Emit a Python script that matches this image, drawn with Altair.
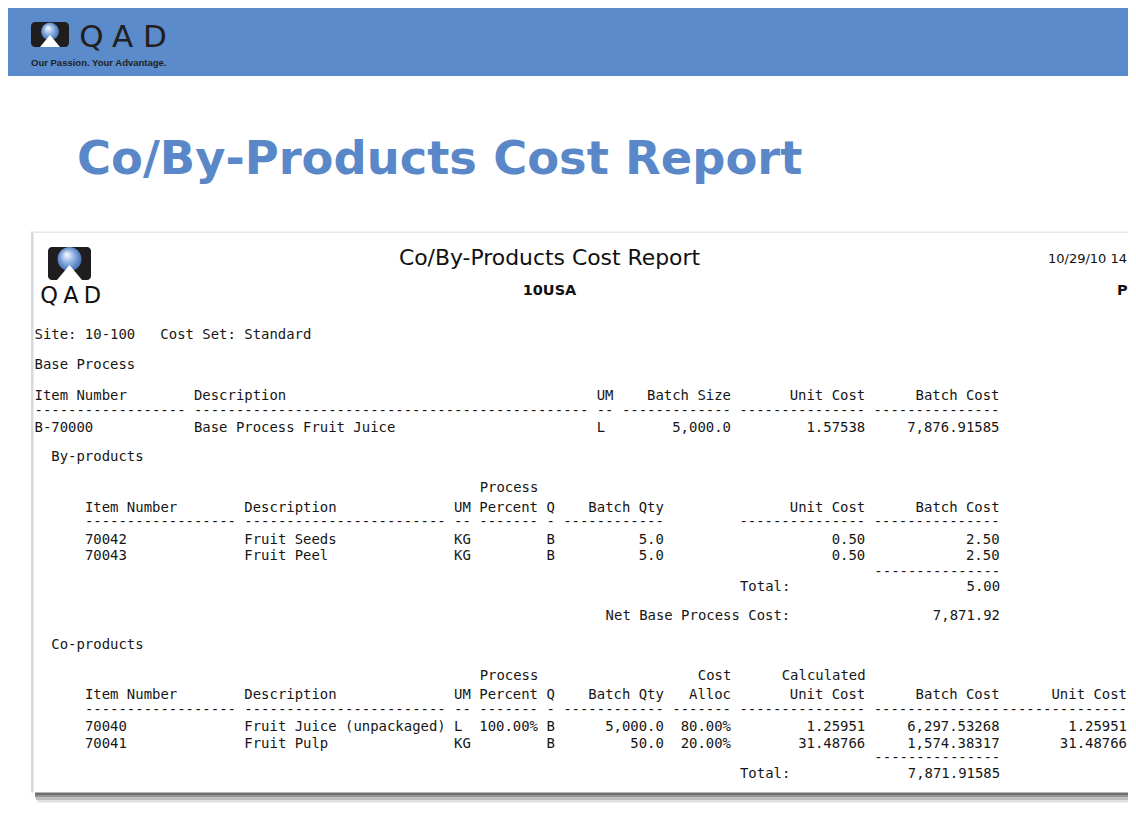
import altair as alt
import pandas as pd

# ------------------------------------------------------------------
# DATA (read from the reference report)
# ------------------------------------------------------------------
slide_title = "Co/By-Products Cost Report"
tagline = "Our Passion. Your Advantage."
logo_letters = ["Q", "A", "D"]

report_title = "Co/By-Products Cost Report"
entity = "10USA"
run_date = "10/29/10 14"
page_label = "P"
site = "10-100"
cost_set = "Standard"

base_items = ["B-70000"]
base_desc = ["Base Process Fruit Juice"]
base_um = ["L"]
base_batch_size = [5000.0]
base_unit_cost = [1.57538]
base_batch_cost = [7876.91585]

by_items = ["70042", "70043"]
by_desc = ["Fruit Seeds", "Fruit Peel"]
by_um = ["KG", "KG"]
by_q = ["B", "B"]
by_batch_qty = [5.0, 5.0]
by_unit_cost = [0.50, 0.50]
by_batch_cost = [2.50, 2.50]
by_total = 5.00
net_base_cost = 7871.92

co_items = ["70040", "70041"]
co_desc = ["Fruit Juice (unpackaged)", "Fruit Pulp"]
co_um = ["L", "KG"]
co_process_pct = ["100.00%", ""]
co_q = ["B", "B"]
co_batch_qty = [5000.0, 50.0]
co_cost_alloc = [80.0, 20.0]
co_calc_unit_cost = [1.25951, 31.48766]
co_batch_cost = [6297.53268, 1574.38317]
co_unit_cost = [1.25951, 31.48766]
co_total = 7871.91585

# ------------------------------------------------------------------
# Fixed-width report layout (column widths in characters)
# ------------------------------------------------------------------
BASE_W = [18, 47, 2, 13, 15, 15]
BASE_A = ["l", "l", "l", "r", "r", "r"]
SUB_W = [18, 24, 2, 7, 1, 12, 7, 15, 15]
SUB_A = ["l", "l", "l", "r", "l", "r", "r", "r", "r"]
LAST_W = 15           # the co-products' trailing "Unit Cost" column (runs off the right edge)
INDENT_SUB = 6
INDENT_SEC = 2


def fixed_row(cells, widths, aligns, indent=0):
    parts = []
    for c, w, a in zip(cells, widths, aligns):
        if isinstance(c, tuple):
            c, a = c
        parts.append(c.ljust(w) if a == "l" else c.rjust(w))
    return (" " * indent + " ".join(parts)).rstrip()


def dashes(widths, skip=()):
    return ["" if i in skip else "-" * w for i, w in enumerate(widths)]


lines = []          # main fixed-width lines
last_col = []       # (line index, text) of the trailing right-edge column
lines.append("Site: %s   Cost Set: %s" % (site, cost_set))
lines.append("Base Process")
lines.append(fixed_row(["Item Number", "Description", "UM", "Batch Size", "Unit Cost", "Batch Cost"], BASE_W, BASE_A))
lines.append(fixed_row(dashes(BASE_W), BASE_W, BASE_A))
for i in range(len(base_items)):
    lines.append(fixed_row([base_items[i], base_desc[i], base_um[i], f"{base_batch_size[i]:,.1f}",
                            f"{base_unit_cost[i]:.5f}", f"{base_batch_cost[i]:,.5f}"], BASE_W, BASE_A))
# By-products
lines.append(" " * INDENT_SEC + "By-products")
lines.append(fixed_row(["", "", "", "Process", "", "", "", "", ""], SUB_W, SUB_A, INDENT_SUB))
lines.append(fixed_row(["Item Number", "Description", "UM", "Percent", "Q", "Batch Qty", "", "Unit Cost",
                        "Batch Cost"], SUB_W, SUB_A, INDENT_SUB))
lines.append(fixed_row(dashes(SUB_W, skip=(6,)), SUB_W, SUB_A, INDENT_SUB))
for i in range(len(by_items)):
    lines.append(fixed_row([by_items[i], by_desc[i], by_um[i], "", by_q[i], f"{by_batch_qty[i]:,.1f}", "",
                            f"{by_unit_cost[i]:.2f}", f"{by_batch_cost[i]:,.2f}"], SUB_W, SUB_A, INDENT_SUB))
lines.append(fixed_row([""] * 8 + ["-" * 15], SUB_W, SUB_A, INDENT_SUB))
lines.append(fixed_row([""] * 7 + [("Total:", "l"), f"{by_total:,.2f}"], SUB_W, SUB_A, INDENT_SUB))
net_lbl = " " * (INDENT_SUB + 62) + "Net Base Process Cost:"
lines.append(net_lbl.ljust(INDENT_SUB + 94) + f"{net_base_cost:,.2f}".rjust(15))
# Co-products
lines.append(" " * INDENT_SEC + "Co-products")
lines.append(fixed_row(["", "", "", "Process", "", "", "Cost", "Calculated", ""], SUB_W, SUB_A, INDENT_SUB))
last_col.append((len(lines), "Unit Cost"))
lines.append(fixed_row(["Item Number", "Description", "UM", "Percent", "Q", "Batch Qty", "Alloc", "Unit Cost",
                        "Batch Cost"], SUB_W, SUB_A, INDENT_SUB))
last_col.append((len(lines), "-" * LAST_W))
lines.append(fixed_row(dashes(SUB_W), SUB_W, SUB_A, INDENT_SUB))
for i in range(len(co_items)):
    last_col.append((len(lines), f"{co_unit_cost[i]:.5f}"))
    lines.append(fixed_row([co_items[i], co_desc[i], co_um[i], co_process_pct[i], co_q[i], f"{co_batch_qty[i]:,.1f}",
                            f"{co_cost_alloc[i]:.2f}%", f"{co_calc_unit_cost[i]:.5f}", f"{co_batch_cost[i]:,.5f}"],
                           SUB_W, SUB_A, INDENT_SUB))
lines.append(fixed_row([""] * 8 + ["-" * 15], SUB_W, SUB_A, INDENT_SUB))
lines.append(fixed_row([""] * 7 + [("Total:", "l"), f"{co_total:,.5f}"], SUB_W, SUB_A, INDENT_SUB))

# vertical layout of the report lines (page pixels, line centres)
LINE_Y = [335, 365, 396, 411, 428,
          457, 488, 507.5, 522, 539.5, 556, 571.5, 586.5, 615.5,
          645, 676, 695, 710, 727, 743.5, 758, 774]
REPORT_X = 34.5
MONO_SIZE = 13.95
CHAR_W = 0.60205 * MONO_SIZE
NBSP = "\u00a0"

# ------------------------------------------------------------------
# Page geometry (slide decoration); data value == page pixel
# ------------------------------------------------------------------
W, H = 1120, 800
RIGHT = 8 + W

mono_x, mono_y, mono_text = [], [], []
for k, ln in enumerate(lines):
    lead = len(ln) - len(ln.lstrip(" "))
    mono_x.append(REPORT_X + lead * CHAR_W)
    mono_y.append(LINE_Y[k])
    mono_text.append(ln.lstrip(" ").replace(" ", NBSP))
mono_df = pd.DataFrame({"x": mono_x, "y": mono_y, "text": mono_text})
last_df = pd.DataFrame({"x": [RIGHT - 1] * len(last_col),
                        "y": [LINE_Y[k] for k, _ in last_col],
                        "text": [t for _, t in last_col]})

xs = alt.Scale(domain=[8, 8 + W], nice=False, zero=False)
ys = alt.Scale(domain=[8, 8 + H], nice=False, zero=False, reverse=True)
X = lambda f="x": alt.X(f"{f}:Q", scale=xs, axis=None)
Y = lambda f="y": alt.Y(f"{f}:Q", scale=ys, axis=None)

rects = pd.DataFrame([
    dict(x=8, x2=RIGHT, y=8, y2=76, fill="#5b8bcb"),
    dict(x=35, x2=RIGHT, y=792.5, y2=795, fill="#6e6e6e"),
    dict(x=35, x2=RIGHT, y=795, y2=797.5, fill="#939393"),
    dict(x=36, x2=RIGHT, y=797.5, y2=800, fill="#bdbdbd"),
    dict(x=37, x2=RIGHT, y=800, y2=802.5, fill="#e2e2e2"),
    dict(x=31, x2=33.5, y=231.5, y2=792.5, fill="#d8d8d8"),
    dict(x=31, x2=RIGHT, y=231.5, y2=233, fill="#e6e6e6"),
])
rect_layer = alt.Chart(rects).mark_rect().encode(
    x=X(), x2="x2:Q", y=Y(), y2="y2:Q", color=alt.Color("fill:N", scale=None))

icons = pd.DataFrame([
    dict(x=31, x2=69, y=22, y2=47),
    dict(x=48, x2=91, y=247, y2=280),
])
icon_layer = alt.Chart(icons).mark_rect(cornerRadius=4, color="#1f1d1e").encode(
    x=X(), x2="x2:Q", y=Y(), y2="y2:Q")

spheres = pd.DataFrame([dict(x=50, y=31.5, s=18 ** 2), dict(x=69.5, y=259, s=24 ** 2)])
sphere_layer = alt.Chart(spheres).mark_point(
    shape="circle", filled=True, opacity=1, strokeWidth=0,
    fill=alt.Gradient(gradient="radial", x1=0.38, y1=0.3, r1=0.0, x2=0.5, y2=0.5, r2=0.6,
                      stops=[alt.GradientStop(color="#ffffff", offset=0),
                             alt.GradientStop(color="#8fb2e4", offset=0.45),
                             alt.GradientStop(color="#2d5ea6", offset=1)])
).encode(x=X(), y=Y(), size=alt.Size("s:Q", scale=None))

peaks = pd.DataFrame([dict(x=50, y=37, s=20 ** 2), dict(x=69.5, y=267.5, s=25 ** 2)])
peak_layer = alt.Chart(peaks).mark_point(
    shape="M-1,1L0,-0.2L1,1Z", filled=True, color="#ffffff", opacity=1, strokeWidth=0
).encode(x=X(), y=Y(), size=alt.Size("s:Q", scale=None))


def text_layer(df, **kw):
    return alt.Chart(df).mark_text(**kw).encode(x=X(), y=Y(), text="text:N")


title_layer = text_layer(pd.DataFrame([dict(x=77, y=174, text=slide_title)]),
                         font="DejaVu Sans", fontSize=46.4, fontWeight="bold", color="#5a87c7",
                         align="left", baseline="alphabetic")
hdr_logo = text_layer(pd.DataFrame(dict(x=[91.5, 122.5, 155], y=[47] * 3, text=logo_letters)),
                      font="DejaVu Sans", fontSize=31, color="#231f20", align="center", baseline="alphabetic")
tag_layer = text_layer(pd.DataFrame([dict(x=31, y=65.5, text=tagline)]),
                       font="Liberation Sans", fontSize=9.5, fontWeight="bold", color="#1f1f1f",
                       align="left", baseline="alphabetic")
rep_logo = text_layer(pd.DataFrame(dict(x=[49, 71, 92.5], y=[303] * 3, text=logo_letters)),
                      font="DejaVu Sans", fontSize=22.5, color="#111111", align="center", baseline="alphabetic")
rep_title = text_layer(pd.DataFrame([dict(x=549.5, y=264.5, text=report_title)]),
                       font="DejaVu Sans", fontSize=21.9, color="#111111", align="center", baseline="alphabetic")
rep_entity = text_layer(pd.DataFrame([dict(x=549.5, y=295, text=entity)]),
                        font="DejaVu Sans", fontSize=14.5, fontWeight="bold", color="#111111",
                        align="center", baseline="alphabetic")
rep_date = text_layer(pd.DataFrame([dict(x=1048, y=263, text=run_date)]),
                      font="DejaVu Sans", fontSize=13, color="#111111", align="left", baseline="alphabetic")
rep_page = text_layer(pd.DataFrame([dict(x=1117, y=295, text=page_label)]),
                      font="DejaVu Sans", fontSize=14.5, fontWeight="bold", color="#111111",
                      align="left", baseline="alphabetic")
mono_layer = text_layer(mono_df, font="DejaVu Sans Mono", fontSize=MONO_SIZE, color="#161616",
                        align="left", baseline="middle")
last_layer = text_layer(last_df, font="DejaVu Sans Mono", fontSize=MONO_SIZE, color="#161616",
                        align="right", baseline="middle")

chart = alt.layer(
    rect_layer, icon_layer, sphere_layer, peak_layer,
    title_layer, hdr_logo, tag_layer, rep_logo, rep_title, rep_entity, rep_date, rep_page,
    mono_layer, last_layer
).properties(
    width=W, height=H, padding=0, background="white",
    autosize=alt.AutoSizeParams(type="none")
).configure_view(stroke=None)

chart.save("out.html", embed_options={"renderer": "svg", "actions": False})
